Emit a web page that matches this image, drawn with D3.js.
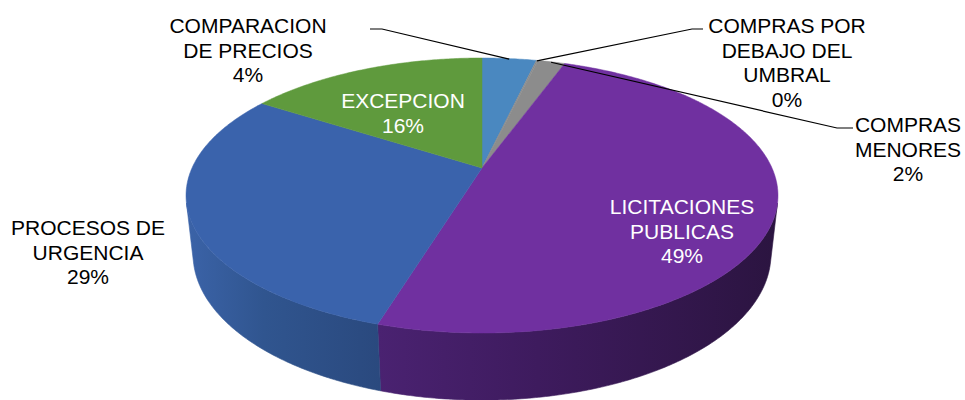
<!DOCTYPE html>
<html><head><meta charset="utf-8">
<script src="https://cdn.jsdelivr.net/npm/d3@7"></script>
<style>body{margin:0;background:#fff}svg{display:block}</style>
</head><body><svg id="chart" width="965" height="400"></svg>
<script>
// ---- data ----
const categories = ["COMPARACION DE PRECIOS", "COMPRAS POR DEBAJO DEL UMBRAL", "COMPRAS MENORES", "LICITACIONES PUBLICAS", "PROCESOS DE URGENCIA", "EXCEPCION"];
const values = [3.6, 0.1, 1.8, 49.2, 29.4, 15.9];
const labelLines = [["COMPARACION", "DE PRECIOS"], ["COMPRAS POR", "DEBAJO DEL", "UMBRAL"], ["COMPRAS", "MENORES"], ["LICITACIONES", "PUBLICAS"], ["PROCESOS DE", "URGENCIA"], ["EXCEPCION"]];

// ---- styles / layout ----
const topColors = ["#4a88c0", "#8c8c8c", "#8c8c8c", "#7030a0", "#3a63ac", "#5f9a3d"];
const sideStops = [
  ["#3f76aa", "#2f5a85", "#2f5a85"],
  ["#7a7a7a", "#666666", "#666666"],
  ["#7a7a7a", "#666666", "#666666"],
  ["#4a2271", "#3e1b5e", "#2b1440"],
  ["#3b63a8", "#30558f", "#2a497e"],
  ["#517f35", "#456d2d", "#456d2d"]
];
const labelLayout = [
  {x: 248, y: 33, color: "#000", line: [[370, 29], [382, 29]]},
  {x: 787, y: 33, color: "#000", line: [[703, 29], [692, 29]]},
  {x: 908, y: 132, color: "#000", line: [[853, 128], [837, 128]]},
  {x: 682, y: 214, color: "#fff"},
  {x: 88, y: 235, color: "#000"},
  {x: 403, y: 108, color: "#fff"}
];
const lineH = 24.5;
const fontSize = 21;

// ---- 3D projection ----
const cx = 482, cy = 168;
const B = 290, A = 132, k = 0.2;
const alpha = Math.asin(A / B);
const D = Math.cos(alpha) / k;
const f = B * D;
const H = 0.229;
function project(theta, Y, r = 1) {
  const X = r * Math.sin(theta), Z = r * Math.cos(theta);
  const yv = Y * Math.cos(alpha) + Z * Math.sin(alpha);
  const zv = D + Z * Math.cos(alpha) - Y * Math.sin(alpha);
  return [cx + f * X / zv, cy - f * yv / zv];
}
// visible front wall range
const cLim = -1 / (D * Math.cos(alpha));
const visA = Math.acos(cLim), visB = 2 * Math.PI - visA;

const svg = d3.select("#chart");
const defs = svg.append("defs");
const total = d3.sum(values);
const arcs = d3.pie().sort(null).value(d => d).startAngle(0).endAngle(2 * Math.PI)(values);

function sampleAngles(a0, a1) {
  const n = Math.max(2, Math.ceil((a1 - a0) / 0.01));
  return d3.range(n + 1).map(i => a0 + (a1 - a0) * i / n);
}
const line = d3.line();

// walls
const wallG = svg.append("g");
arcs.forEach((a, i) => {
  const a0 = Math.max(a.startAngle, visA), a1 = Math.min(a.endAngle, visB);
  if (a1 <= a0) return;
  const angs = sampleAngles(a0, a1);
  const topPts = angs.map(t => project(t, 0));
  const botPts = angs.slice().reverse().map(t => project(t, -H));
  const pts = topPts.concat(botPts);
  const xs = pts.map(p => p[0]);
  const gid = "wg" + i;
  const g = defs.append("linearGradient").attr("id", gid).attr("gradientUnits", "userSpaceOnUse")
    .attr("x1", d3.min(xs)).attr("x2", d3.max(xs)).attr("y1", 0).attr("y2", 0);
  const st = sideStops[i];
  [0, 0.4, 1].forEach((o, j) => g.append("stop").attr("offset", o).attr("stop-color", st[j]));
  wallG.append("path").attr("d", line(pts) + "Z").attr("fill", `url(#${gid})`)
    .attr("stroke", `url(#${gid})`).attr("stroke-width", 0.6);
});

// top faces
const topG = svg.append("g");
arcs.forEach((a, i) => {
  const pts = [project(0, 0, 0)].concat(sampleAngles(a.startAngle, a.endAngle).map(t => project(t, 0)));
  topG.append("path").attr("d", line(pts) + "Z").attr("fill", topColors[i])
    .attr("stroke", topColors[i]).attr("stroke-width", 0.5).attr("stroke-linejoin", "round");
});

// leader lines
const leadG = svg.append("g");
arcs.forEach((a, i) => {
  const L = labelLayout[i];
  if (!L.line) return;
  const mid = (a.startAngle + a.endAngle) / 2;
  const pts = L.line.concat([project(mid, 0, 0.995)]);
  leadG.append("path").attr("d", line(pts)).attr("fill", "none").attr("stroke", "#000").attr("stroke-width", 1.2);
});

// labels
const labG = svg.append("g").attr("font-family", "'Liberation Sans', Arial, sans-serif").attr("font-size", fontSize).attr("text-anchor", "middle");
arcs.forEach((a, i) => {
  const L = labelLayout[i];
  const lines = labelLines[i].concat([Math.round(values[i] / total * 100) + "%"]);
  const t = labG.append("text").attr("fill", L.color);
  lines.forEach((s, j) => t.append("tspan").attr("x", L.x).attr("y", L.y + j * lineH).text(s));
});
</script>
</body></html>
